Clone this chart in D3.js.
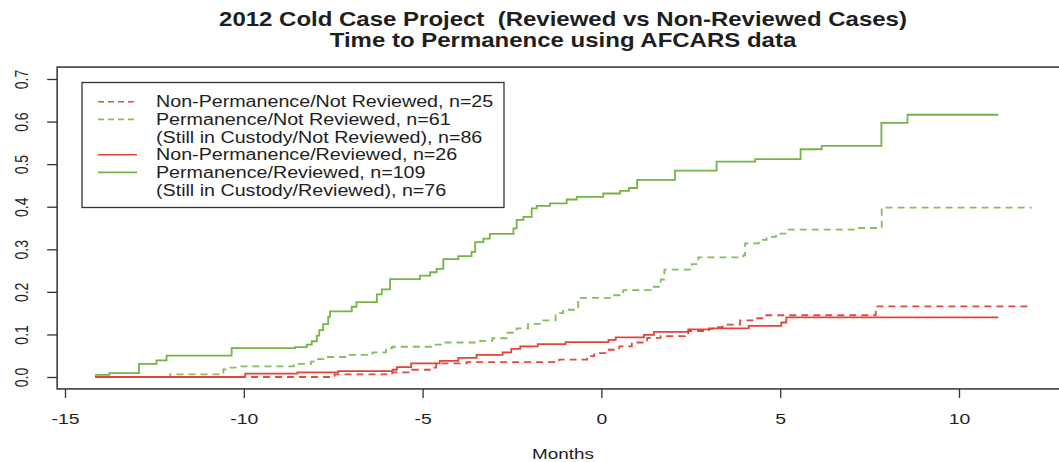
<!DOCTYPE html>
<html>
<head>
<meta charset="utf-8">
<script src="https://cdn.jsdelivr.net/npm/d3@7"></script>
<style>
  html, body { margin: 0; padding: 0; background: #fff; }
  svg { display: block; }
</style>
</head>
<body>
<div id="chart"></div>
<script>
// step points: [months, cumulative proportion], last pair = end of follow-up
const nonPermNotReviewed = [[-14.16,0],[-7.46,0.006],[-5.85,0.011],[-5.3,0.017],[-4.8,0.022],[-4.62,0.032],[-3.77,0.035],[-1.18,0.041],[-0.4,0.049],[-0.2,0.056],[0.15,0.064],[0.5,0.072],[0.85,0.081],[1.28,0.092],[1.66,0.096],[2.34,0.1],[2.43,0.108],[3.01,0.113],[3.11,0.117],[3.39,0.123],[3.88,0.133],[4.26,0.138],[4.5,0.145],[7.67,0.166],[12.05,0.166]];

const permNotReviewed = [[-14.16,0],[-12.06,0.006],[-10.57,0.018],[-10.48,0.022],[-10.15,0.025],[-8.6,0.028],[-8.5,0.031],[-8.12,0.036],[-7.95,0.042],[-7.78,0.047],[-7.12,0.052],[-6.4,0.058],[-6.02,0.068],[-5.85,0.071],[-4.76,0.076],[-4.42,0.081],[-3.39,0.085],[-3.05,0.091],[-2.65,0.104],[-2.37,0.114],[-2.05,0.125],[-1.65,0.133],[-1.28,0.15],[-1.07,0.158],[-0.65,0.186],[0.32,0.192],[0.61,0.204],[1.38,0.212],[1.66,0.229],[1.76,0.252],[2.53,0.265],[2.71,0.281],[3.97,0.286],[4.02,0.314],[4.4,0.322],[4.62,0.329],[4.88,0.337],[5.2,0.346],[7.09,0.35],[7.84,0.398],[12.03,0.398]];

const nonPermReviewed = [[-14.16,0],[-9.96,0.008],[-8.5,0.011],[-7.36,0.014],[-5.84,0.017],[-5.72,0.023],[-5.32,0.032],[-4.52,0.038],[-4.0,0.045],[-3.49,0.052],[-2.76,0.058],[-2.52,0.066],[-2.27,0.072],[-1.78,0.077],[-1.0,0.082],[0.2,0.087],[0.4,0.093],[1.19,0.099],[1.47,0.106],[2.43,0.112],[3.01,0.114],[4.12,0.12],[5.03,0.128],[5.17,0.14],[11.1,0.14]];

const permReviewed = [[-14.16,0.005],[-13.76,0.009],[-12.93,0.031],[-12.44,0.039],[-12.16,0.05],[-10.34,0.068],[-8.57,0.07],[-8.24,0.076],[-8.1,0.084],[-7.96,0.097],[-7.89,0.11],[-7.78,0.124],[-7.64,0.141],[-7.59,0.154],[-6.98,0.165],[-6.85,0.176],[-6.28,0.194],[-6.14,0.206],[-5.91,0.23],[-5.07,0.238],[-4.79,0.246],[-4.61,0.254],[-4.42,0.277],[-4.0,0.284],[-3.63,0.294],[-3.53,0.317],[-3.3,0.325],[-3.12,0.336],[-2.46,0.349],[-2.37,0.369],[-2.18,0.376],[-1.95,0.396],[-1.81,0.402],[-1.44,0.408],[-0.97,0.417],[-0.69,0.423],[0.05,0.431],[0.52,0.437],[0.77,0.444],[1.0,0.463],[2.06,0.485],[3.22,0.506],[4.3,0.512],[5.57,0.535],[6.16,0.543],[7.83,0.597],[8.56,0.616],[11.1,0.616]];

const legendLabels = [
  'Non-Permanence/Not Reviewed, n=25',
  'Permanence/Not Reviewed, n=61',
  '(Still in Custody/Not Reviewed), n=86',
  'Non-Permanence/Reviewed, n=26',
  'Permanence/Reviewed, n=109',
  '(Still in Custody/Reviewed), n=76'
];
// which series each legend row shows a key for (null = text only)
const legendKeys = [0, 1, null, 2, 3, null];

const titleLines = [
  '2012 Cold Case Project  (Reviewed vs Non-Reviewed Cases)',
  'Time to Permanence using AFCARS data'
];
const xTicks = [-15, -10, -5, 0, 5, 10];
const yTicks = [0, 0.1, 0.2, 0.3, 0.4, 0.5, 0.6, 0.7];
const xLabel = 'Months';

let CHART_CONFIG = {
  width: 1059,
  height: 462,
  font: "'Liberation Sans', Arial, Helvetica, sans-serif",
  textColor: '#1e1e1e',
  boxColor: '#333',
  xDomain: [-15, 10],
  xRange: [65, 959],
  yDomain: [0, 0.7],
  yRange: [377, 79],
  xlim: [-15.22, 13.08],
  ylim: [-0.028, 0.728],
  lineWidth: 1.8,
  dash: '7,5',
  colors: ['#e4493d', '#85bc5e', '#e0443a', '#74b446'],
  dashed: [true, true, false, false],
  title: { x: 563, y: [25.5, 47], size: 20, stretch: 1.2 },
  xAxis: { tick: 9, labelY: 423.5, size: 14.5, stretch: 1.34 },
  yAxis: { tick: 10, labelX: -29, size: 14, stretch: 1.25 },
  xLabel: { x: 563, y: 459, size: 15, stretch: 1.26 },
  legend: {
    x: 82, y: 82.5, width: 422, height: 125,
    rowTop: 101.7, rowStep: 17.66,
    lineX: [98, 137], textX: 156, size: 16, stretch: 1.23
  }
};

const seriesData = [nonPermNotReviewed, permNotReviewed, nonPermReviewed, permReviewed];

const objectSetObj = (sel, obj, fct) => {
  for (const k in obj) {
    sel[fct](k, obj[k]);
  }
  return sel;
};
const objectAttr = (sel, attrs) => objectSetObj(sel, attrs, 'attr');
const objectStyle = (sel, styles) => objectSetObj(sel, styles, 'style');

class Chart {
  constructor(node){
    this.config = CHART_CONFIG;
    this.$node = d3.select(node);
    this.initScales();
    this.createChart();
    this.addTitle();
    this.addBox();
    this.addAxis();
    this.draw();
    this.addLegend();
  }

  initScales(){
    const c = this.config;
    this.x = d3.scaleLinear().domain(c.xDomain).range(c.xRange);
    this.y = d3.scaleLinear().domain(c.yDomain).range(c.yRange);
  }

  createChart(){
    const { width, height, font } = this.config;
    this.$svg = this.$node.append('svg')
      .attr('width', width)
      .attr('height', height)
      .style('font-family', font);
    this.$svg.append('rect')
      .attr('width', width).attr('height', height).attr('fill', '#fff');
  }

  addTitle(){
    const { title, textColor } = this.config;
    this.$svg.selectAll('.title')
      .data(titleLines)
      .enter().append('text')
      .attr('class', 'title')
      .attr('text-anchor', 'middle')
      .attr('transform', (d, i) => `translate(${title.x},${title.y[i]}) scale(${title.stretch},1)`)
      .style('font-size', title.size + 'px')
      .style('font-weight', 'bold')
      .style('white-space', 'pre')
      .style('fill', textColor)
      .text(d => d);
  }

  addBox(){
    const { xlim, ylim, boxColor } = this.config;
    const x0 = this.x(xlim[0]), x1 = this.x(xlim[1]);
    const y0 = this.y(ylim[1]), y1 = this.y(ylim[0]);
    this.box = { x0, x1, y0, y1 };
    objectAttr(this.$svg.append('rect'), {
      x: x0, y: y0, width: x1 - x0, height: y1 - y0,
      fill: 'none', stroke: boxColor, 'stroke-width': 1.5
    });
  }

  addAxis(){
    const { xAxis, yAxis, xLabel: xl, textColor, boxColor } = this.config;
    const { x0, y1 } = this.box;

    const axisX = d3.axisBottom(this.x)
      .tickValues(xTicks)
      .tickSize(xAxis.tick)
      .tickFormat(d => String(d));
    const $gx = this.$svg.append('g')
      .attr('transform', `translate(0,${y1})`)
      .call(axisX);
    $gx.select('.domain').remove();
    $gx.selectAll('.tick line').attr('stroke', boxColor).attr('stroke-width', 1.3);
    $gx.selectAll('.tick text')
      .attr('y', null).attr('dy', null)
      .attr('transform', `translate(0,${xAxis.labelY - y1}) scale(${xAxis.stretch},1)`)
      .style('font-size', xAxis.size + 'px')
      .style('font-family', this.config.font)
      .style('fill', textColor);

    const axisY = d3.axisLeft(this.y)
      .tickValues(yTicks)
      .tickSize(yAxis.tick)
      .tickFormat(d3.format('.1f'));
    const $gy = this.$svg.append('g')
      .attr('transform', `translate(${x0},0)`)
      .call(axisY);
    $gy.select('.domain').remove();
    $gy.selectAll('.tick line').attr('stroke', boxColor).attr('stroke-width', 1.3);
    $gy.selectAll('.tick text')
      .attr('x', null).attr('dy', null)
      .attr('text-anchor', 'middle')
      .attr('transform', `translate(${yAxis.labelX},0) scale(${yAxis.stretch},1) rotate(-90)`)
      .style('font-size', yAxis.size + 'px')
      .style('font-family', this.config.font)
      .style('fill', textColor);

    this.$svg.append('text')
      .attr('text-anchor', 'middle')
      .attr('transform', `translate(${xl.x},${xl.y}) scale(${xl.stretch},1)`)
      .style('font-size', xl.size + 'px')
      .style('fill', textColor)
      .text(xLabel);
  }

  draw(){
    const { colors, dashed, dash, lineWidth } = this.config;
    const line = d3.line()
      .x(d => this.x(d[0]))
      .y(d => this.y(d[1]))
      .curve(d3.curveStepAfter);

    this.$svg.append('g').attr('class', 'curves')
      .selectAll('path')
      .data(seriesData)
      .enter().append('path')
      .attr('d', line)
      .attr('fill', 'none')
      .attr('stroke', (d, i) => colors[i])
      .attr('stroke-width', lineWidth)
      .attr('stroke-dasharray', (d, i) => dashed[i] ? dash : null);
  }

  addLegend(){
    const { legend, colors, dashed, lineWidth, textColor, boxColor } = this.config;
    const $legend = this.$svg.append('g').attr('class', 'chart-legend');
    objectAttr($legend.append('rect'), {
      x: legend.x, y: legend.y, width: legend.width, height: legend.height,
      fill: '#fff', stroke: boxColor, 'stroke-width': 1.3
    });

    const rowY = (i) => legend.rowTop + i * legend.rowStep;
    const rows = legendLabels.map((label, i) => ({ label, i, key: legendKeys[i] }));
    const $rows = $legend.selectAll('.chart-legend__element')
      .data(rows)
      .enter().append('g').attr('class', 'chart-legend__element');

    $rows.filter(d => d.key !== null)
      .append('line')
      .attr('x1', legend.lineX[0]).attr('x2', legend.lineX[1])
      .attr('y1', d => rowY(d.i))
      .attr('y2', d => rowY(d.i))
      .attr('stroke', d => colors[d.key])
      .attr('stroke-width', lineWidth - 0.2)
      .attr('stroke-dasharray', d => dashed[d.key] ? '6,4' : null);

    const $titles = $rows.append('text')
      .attr('transform', d => `translate(${legend.textX},${rowY(d.i) + 5.7}) scale(${legend.stretch},1)`)
      .text(d => d.label);
    objectStyle($titles, {
      'font-size': legend.size + 'px',
      fill: textColor
    });
  }
}

new Chart('#chart');
</script>
</body>
</html>
